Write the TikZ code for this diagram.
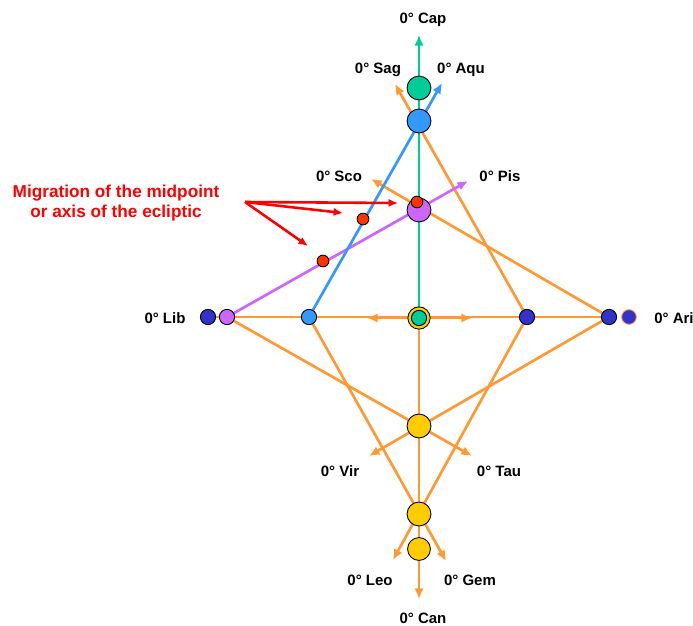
\documentclass[tikz,border=0pt]{standalone}
\usepackage{fontspec}
\setmainfont{Liberation Sans}
\usetikzlibrary{arrows.meta,backgrounds}
\definecolor{eclOrange}{RGB}{255,153,51}
\definecolor{eclTeal}{RGB}{0,204,153}
\definecolor{eclBlue}{RGB}{51,153,255}
\definecolor{eclPurple}{RGB}{204,102,255}
\definecolor{eclNavy}{RGB}{51,51,204}
\definecolor{eclYellow}{RGB}{255,204,0}
\definecolor{eclRed}{RGB}{255,51,0}
\definecolor{noteRed}{RGB}{255,0,0}

\begin{document}
\begin{tikzpicture}[x=0.03cm,y=-0.03cm,
  dot/.style={circle,draw=black,line width=0.75pt,fill=#1,inner sep=0pt,minimum size=13pt},
  big/.style={dot=#1,minimum size=20.4pt},
  reddot/.style={dot=eclRed,minimum size=10pt},
  lbl/.style={font=\fontsize{12.8}{15}\selectfont\bfseries},
  ray/.style={line width=2.3pt,color=#1},
  arr/.style={ray=#1,-{Latex[length=9pt,width=8pt]}},
  notearr/.style={line width=2.2pt,color=noteRed,-{Latex[length=8pt,width=7pt]}}
]
\useasboundingbox (0,0) rectangle (693,626);

% Circles on the vertical axis
\node[big=eclTeal]   (capG) at (419,88)  {};
\node[big=eclBlue]   (aquB) at (419,121) {};
\node[big=eclPurple] (pisP) at (419,210) {};
\node[dot=eclYellow,minimum size=19pt] (ctr) at (419,318) {};
\node[dot=eclTeal]   (ctrIn) at (419,318) {};
\node[big=eclYellow] (tauY) at (419,426) {};
\node[big=eclYellow] (gemY) at (419,514) {};
\node[dot=eclYellow,minimum size=19.5pt] (canY) at (419,549) {};

% Circles on the horizontal axis
\node[dot=eclNavy]   (libN) at (208,317) {};
\node[dot=eclPurple] (libP) at (227,317) {};
\node[dot=eclBlue]   (libB) at (309,317) {};
\node[dot=eclNavy]   (ariB) at (527,317) {};
\node[dot=eclNavy]   (ariN) at (609,317) {};
\node[dot=eclNavy,draw=eclOrange,minimum size=12.5pt] (ariO) at (629,317) {};

% Midpoint migration
\node[reddot] (rTop) at (417,202) {};
\node[reddot] (rMid) at (363,219) {};
\node[reddot] (rLow) at (323,261) {};

% Arrow ends
\coordinate (tCap) at (419,35);
\coordinate (tCan) at (419,599);
\coordinate (tSag) at (395,84);
\coordinate (tAqu) at (442,83);
\coordinate (tSco) at (371,179);
\coordinate (tPis) at (468,181);
\coordinate (tVir) at (369,456);
\coordinate (tTau) at (472,456);
\coordinate (tLeo) at (393,560);
\coordinate (tGem) at (446,561);
\coordinate (mL) at (367,318);
\coordinate (mR) at (472,318);

\begin{scope}[on background layer]
\draw[arr=eclOrange] (ctr.center) -- (tCan);
\draw[ray=eclOrange] (libN.center) -- (ariN.center);
\draw[arr=eclOrange] (ctr.center) -- (mL);
\draw[arr=eclOrange] (ctr.center) -- (mR);
\draw[arr=eclOrange] (libP.center) -- (tTau);
\draw[arr=eclOrange] (ariN.center) -- (tVir);
\draw[arr=eclOrange] (ariN.center) -- (tSco);
\draw[arr=eclOrange] (libB.center) -- (tGem);
\draw[arr=eclOrange] (ariB.center) -- (tSag);
\draw[arr=eclOrange] (ariB.center) -- (tLeo);
\draw[arr=eclPurple] (libP.center) -- (tPis);
\draw[arr=eclBlue] (libB.center) -- (tAqu);
\draw[arr=eclTeal] (ctr.center) -- (tCap);
\end{scope}

% Labels
\node[lbl] (lCap) at (423,20)  {0° Cap};
\node[lbl] (lSag) at (378,70)  {0° Sag};
\node[lbl] (lAqu) at (461,70)  {0° Aqu};
\node[lbl] (lSco) at (339,176) {0° Sco};
\node[lbl] (lPis) at (500,176) {0° Pis};
\node[lbl] (lLib) at (165,318) {0° Lib};
\node[lbl] (lAri) at (674,318) {0° Ari};
\node[lbl] (lVir) at (340,471) {0° Vir};
\node[lbl] (lTau) at (499,471) {0° Tau};
\node[lbl] (lLeo) at (370,580) {0° Leo};
\node[lbl] (lGem) at (470,580) {0° Gem};
\node[lbl] (lCan) at (423,618) {0° Can};

% Note
\node[align=center,text=noteRed,font=\fontsize{14.7}{17}\selectfont\bfseries]
  (note) at (116,203) {Migration of the midpoint\\or axis of the ecliptic};
\coordinate (nFrom) at (245,202);
\draw[notearr] (nFrom) -- (398,203);
\draw[notearr] (nFrom) -- (343,213);
\draw[notearr] (nFrom) -- (308,246);
\end{tikzpicture}
\end{document}
